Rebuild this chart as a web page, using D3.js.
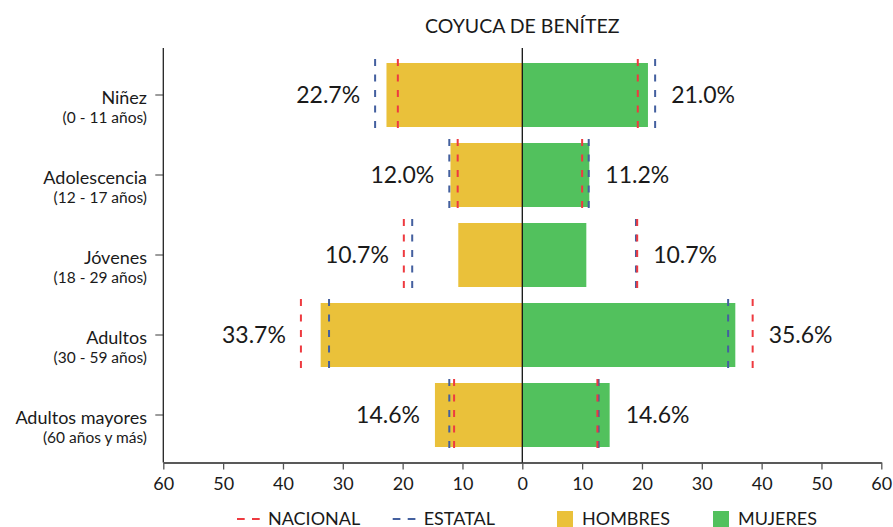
<html>
    <head>
        <meta charset="utf-8">
        <title>Coyuca de Benítez</title>
        <style>
            body { margin: 0; background: #fff; }
            text { font-family: Lato, sans-serif; fill: #1a1a1a; }
        </style>
    </head>
    <body>
        <script src="https://cdn.jsdelivr.net/npm/d3@7"></script>
        <script>
        // datos
        var categorias = ["Niñez", "Adolescencia", "Jóvenes", "Adultos", "Adultos mayores"];
        var rangos = ["(0 - 11 años)", "(12 - 17 años)", "(18 - 29 años)", "(30 - 59 años)", "(60 años y más)"];
        var hombres = [22.7, 12.0, 10.7, 33.7, 14.6];
        var mujeres = [21.0, 11.2, 10.7, 35.6, 14.6];
        var nacionalH = [20.8, 10.8, 19.8, 37.0, 11.4];
        var estatalH = [24.6, 12.2, 18.4, 32.3, 12.2];
        var nacionalM = [19.3, 10.0, 19.2, 38.5, 12.55];
        var estatalM = [22.2, 11.1, 19.0, 34.4, 12.75];
        var ticksX = [-60, -50, -40, -30, -20, -10, 0, 10, 20, 30, 40, 50, 60];

        var width = 893, height = 527;
        var colH = "#EAC13A", colM = "#52C15D", colNac = "#EE3A40", colEst = "#44609F";
        var yTop = 48, yBottom = 462.5;

        var svg = d3.select("body").append("svg").attr("width", width).attr("height", height);

        var x = d3.scaleLinear().domain([-60, 60]).range([163.3, 881.3]);
        var y = d3.scaleBand().domain(categorias).range([55, 455]).paddingInner(0.2).paddingOuter(0.1);

        var rows = categorias.map(function(c, i) {
            return {cat: c, rango: rangos[i], h: hombres[i], m: mujeres[i],
                    nh: nacionalH[i], eh: estatalH[i], nm: nacionalM[i], em: estatalM[i]};
        });

        // titulo
        svg.append("text").attr("x", x(0)).attr("y", 33).attr("text-anchor", "middle")
            .attr("font-size", "19.5px").text("COYUCA DE BENÍTEZ");

        // barras
        svg.append("g").selectAll("rect").data(rows).enter().append("rect")
            .attr("x", function(d){ return x(-d.h); })
            .attr("y", function(d){ return y(d.cat); })
            .attr("width", function(d){ return x(0) - x(-d.h); })
            .attr("height", y.bandwidth())
            .attr("fill", colH);
        svg.append("g").selectAll("rect").data(rows).enter().append("rect")
            .attr("x", x(0))
            .attr("y", function(d){ return y(d.cat); })
            .attr("width", function(d){ return x(d.m) - x(0); })
            .attr("height", y.bandwidth())
            .attr("fill", colM);

        // eje x
        var ax = svg.append("g").attr("transform", "translate(0," + yBottom + ")")
            .call(d3.axisBottom(x).tickValues(ticksX).tickFormat(function(d){ return Math.abs(d); })
                .tickSize(7).tickSizeOuter(0).tickPadding(8));
        ax.selectAll("text").attr("font-size", "18px").style("font-family", "Lato, sans-serif").attr("fill", "#1a1a1a");
        ax.selectAll("line").attr("stroke", "#555").attr("stroke-width", 1.3);
        ax.select(".domain").attr("stroke", "#222").attr("stroke-width", 1.3);

        // eje y
        var ay = svg.append("g").attr("transform", "translate(" + x(-60) + ",0)")
            .call(d3.axisLeft(y).tickSize(8).tickFormat(""));
        ay.select(".domain").remove();
        ay.selectAll("line").attr("stroke", "#666").attr("stroke-width", 1.3);
        svg.append("line").attr("x1", x(-60)).attr("x2", x(-60)).attr("y1", yTop).attr("y2", yBottom)
            .attr("stroke", "#222").attr("stroke-width", 1.3);

        var etq = svg.append("g").selectAll("text").data(rows).enter().append("text")
            .attr("text-anchor", "end")
            .attr("transform", function(d){ return "translate(147," + (y(d.cat) + y.bandwidth() / 2) + ")"; });
        etq.append("tspan").attr("x", 0).attr("y", 8.5).attr("font-size", "18px").text(function(d){ return d.cat; });
        etq.append("tspan").attr("x", 0).attr("y", 28).attr("font-size", "15.5px").text(function(d){ return d.rango; });

        // linea cero
        svg.append("line").attr("x1", x(0)).attr("x2", x(0)).attr("y1", yTop).attr("y2", yBottom)
            .attr("stroke", "#111").attr("stroke-width", 1.3);

        // lineas de referencia
        var refs = [["eh", -1, colEst], ["em", 1, colEst], ["nh", -1, colNac], ["nm", 1, colNac]];
        refs.forEach(function(r) {
            svg.append("g").selectAll("line").data(rows).enter().append("line")
                .attr("x1", function(d){ return x(r[1] * d[r[0]]); })
                .attr("x2", function(d){ return x(r[1] * d[r[0]]); })
                .attr("y1", function(d){ return y(d.cat) - 4; })
                .attr("y2", function(d){ return y(d.cat) + y.bandwidth() + 4; })
                .attr("stroke", r[2]).attr("stroke-width", 2).attr("stroke-dasharray", "7,8.5");
        });

        // porcentajes
        svg.append("g").selectAll("text").data(rows).enter().append("text")
            .attr("x", function(d){ return x(-Math.max(d.h, d.nh, d.eh)) - 15; })
            .attr("y", function(d){ return y(d.cat) + y.bandwidth() / 2 + 8; })
            .attr("text-anchor", "end").attr("font-size", "23px")
            .text(function(d){ return d.h.toFixed(1) + "%"; });
        svg.append("g").selectAll("text").data(rows).enter().append("text")
            .attr("x", function(d){ return x(Math.max(d.m, d.nm, d.em)) + 16; })
            .attr("y", function(d){ return y(d.cat) + y.bandwidth() / 2 + 8; })
            .attr("font-size", "23px")
            .text(function(d){ return d.m.toFixed(1) + "%"; });

        // leyenda
        var ley = svg.append("g");
        [[237, colNac, "NACIONAL"], [392.7, colEst, "ESTATAL"]].forEach(function(l) {
            ley.append("line").attr("x1", l[0]).attr("x2", l[0] + 23).attr("y1", 519).attr("y2", 519)
                .attr("stroke", l[1]).attr("stroke-width", 2).attr("stroke-dasharray", "7.7,7.3");
            ley.append("text").attr("x", l[0] + 31).attr("y", 524.5).attr("font-size", "18px").text(l[2]);
        });
        [[557, colH, "HOMBRES"], [713, colM, "MUJERES"]].forEach(function(l) {
            ley.append("rect").attr("x", l[0]).attr("y", 511).attr("width", 16).attr("height", 16).attr("fill", l[1]);
            ley.append("text").attr("x", l[0] + 25).attr("y", 524.5).attr("font-size", "18px").text(l[2]);
        });
        </script>
    </body>
</html>
